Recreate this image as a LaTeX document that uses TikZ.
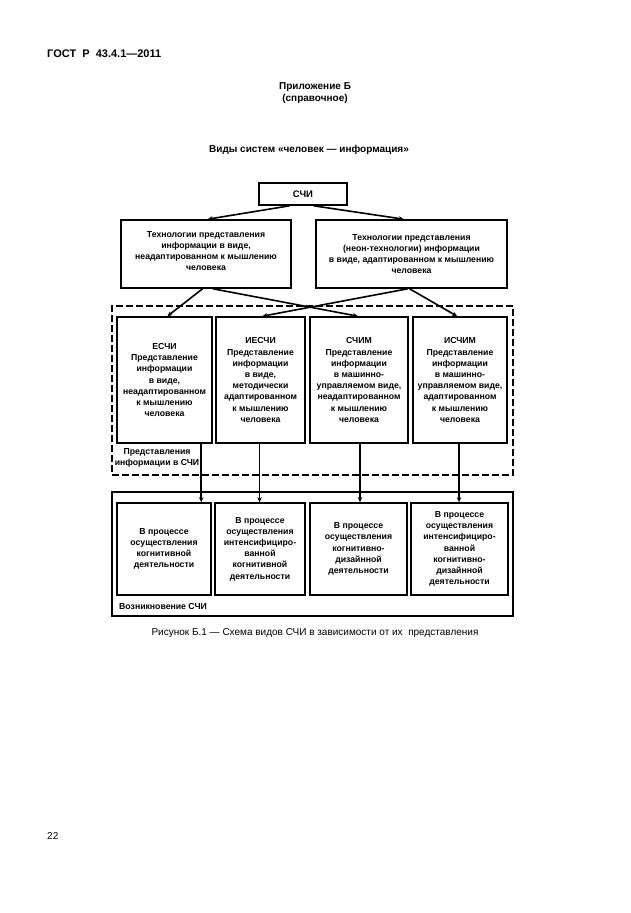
\documentclass[tikz,border=0pt]{standalone}
\usepackage{fontspec}
\setmainfont{Liberation Sans}
\usetikzlibrary{calc,arrows.meta}
\begin{document}
\begin{tikzpicture}[x=1pt,y=-1pt,
  box/.style={draw,line width=1.6pt,inner sep=1pt,align=center,font=\fontsize{8.7}{11.2}\selectfont\bfseries},
  frame/.style={draw,line width=1.6pt},
  dframe/.style={draw,line width=1.6pt,dash pattern=on 7pt off 3pt},
  lbl/.style={inner sep=0pt,align=center,font=\fontsize{8.7}{11}\selectfont\bfseries},
  conn/.style={line width=1.6pt,-{Stealth[length=5pt,width=4.5pt]}},
  hdr/.style={inner sep=0pt,font=\fontsize{10}{12}\selectfont\bfseries}]
\useasboundingbox[fill=white] (0,0) rectangle (630,913);

% header texts
\node[hdr,anchor=west,font=\fontsize{11}{13}\selectfont\bfseries] (gost) at (47,54) {ГОСТ\ \ Р\ \ 43.4.1—2011};
\node[hdr,align=center] (app) at (315,93) {Приложение Б\\(справочное)};
\node[hdr] (title) at (309,150) {Виды систем «человек — информация»};

% top
\node[box,minimum width=88pt,minimum height=22pt,font=\fontsize{9.5}{10}\selectfont\bfseries] (sci) at (303,194) {СЧИ};
\node[box,minimum width=170pt,minimum height=68pt,text depth=6pt] (lt) at (206,254) {Технологии представления\\информации в виде,\\неадаптированном к мышлению\\человека};
\node[box,minimum width=191pt,minimum height=68pt] (rt) at (411.5,254) {Технологии представления\\(неон-технологии) информации\\в виде, адаптированном к мышлению\\человека};

% dashed frame
\node[dframe,minimum width=401pt,minimum height=169pt] (df) at (312.5,390.5) {};
\node[box,minimum width=95pt,minimum height=126pt] (m1) at (164.5,380) {ЕСЧИ\\Представление\\информации\\в виде,\\неадаптированном\\к мышлению\\человека};
\node[box,minimum width=89pt,minimum height=126pt] (m2) at (260.5,380) {ИЕСЧИ\\Представление\\информации\\в виде,\\методически\\адаптированном\\к мышлению\\человека};
\node[box,minimum width=98pt,minimum height=126pt] (m3) at (359,380) {СЧИМ\\Представление\\информации\\в машинно-\\управляемом виде,\\неадаптированном\\к мышлению\\человека};
\node[box,minimum width=94pt,minimum height=126pt] (m4) at (460,380) {ИСЧИМ\\Представление\\информации\\в машинно-\\управляемом виде,\\адаптированном\\к мышлению\\человека};
\node[lbl] (dl) at (157,458) {Представления\\информации в СЧИ};

% bottom frame
\node[frame,minimum width=401pt,minimum height=124pt] (bf) at (312.5,554) {};
\node[box,minimum width=94pt,minimum height=92pt] (b1) at (164,549) {В процессе\\осуществления\\когнитивной\\деятельности};
\node[box,minimum width=90pt,minimum height=92pt] (b2) at (260,549) {В процессе\\осуществления\\интенсифициро-\\ванной\\когнитивной\\деятельности};
\node[box,minimum width=97pt,minimum height=92pt] (b3) at (358.5,549) {В процессе\\осуществления\\когнитивно-\\дизайнной\\деятельности};
\node[box,minimum width=97pt,minimum height=92pt] (b4) at (459.5,549) {В процессе\\осуществления\\интенсифициро-\\ванной\\когнитивно-\\дизайнной\\деятельности};
\node[lbl,anchor=west] (bl) at (119,606) {Возникновение СЧИ};

% caption and page number
\node[inner sep=0pt,font=\fontsize{10}{12}\selectfont] (cap) at (315,633) {Рисунок Б.1 — Схема видов СЧИ в зависимости от их\ \ представления};
\node[inner sep=0pt,anchor=west,font=\fontsize{10}{12}\selectfont] (pg) at (47,836) {22};

% connectors top
\draw[conn] ($(sci.south west)!0.35!(sci.south east)$) -- ($(lt.north west)!0.51!(lt.north east)$);
\draw[conn] ($(sci.south west)!0.62!(sci.south east)$) -- ($(rt.north west)!0.46!(rt.north east)$);

% crossing connectors
\draw[conn] ($(lt.south west)!0.48!(lt.south east)$) -- ($(m1.north west)!0.53!(m1.north east)$);
\draw[conn] ($(lt.south west)!0.54!(lt.south east)$) -- ($(m3.north west)!0.49!(m3.north east)$);
\draw[conn] ($(rt.south west)!0.48!(rt.south east)$) -- ($(m2.north west)!0.52!(m2.north east)$);
\draw[conn] ($(rt.south west)!0.49!(rt.south east)$) -- ($(m4.north west)!0.47!(m4.north east)$);

% vertical connectors
\coordinate (v1) at ($(m1.south west)!0.88!(m1.south east)$);
\coordinate (v2) at ($(m2.south west)!0.49!(m2.south east)$);
\coordinate (v3) at ($(m3.south west)!0.51!(m3.south east)$);
\coordinate (v4) at ($(m4.south west)!0.49!(m4.south east)$);
\draw[conn] (v1) -- (v1 |- b1.north);
\draw[conn] (v2) -- (v2 |- b2.north);
\draw[conn] (v3) -- (v3 |- b3.north);
\draw[conn] (v4) -- (v4 |- b4.north);
\end{tikzpicture}
\end{document}
